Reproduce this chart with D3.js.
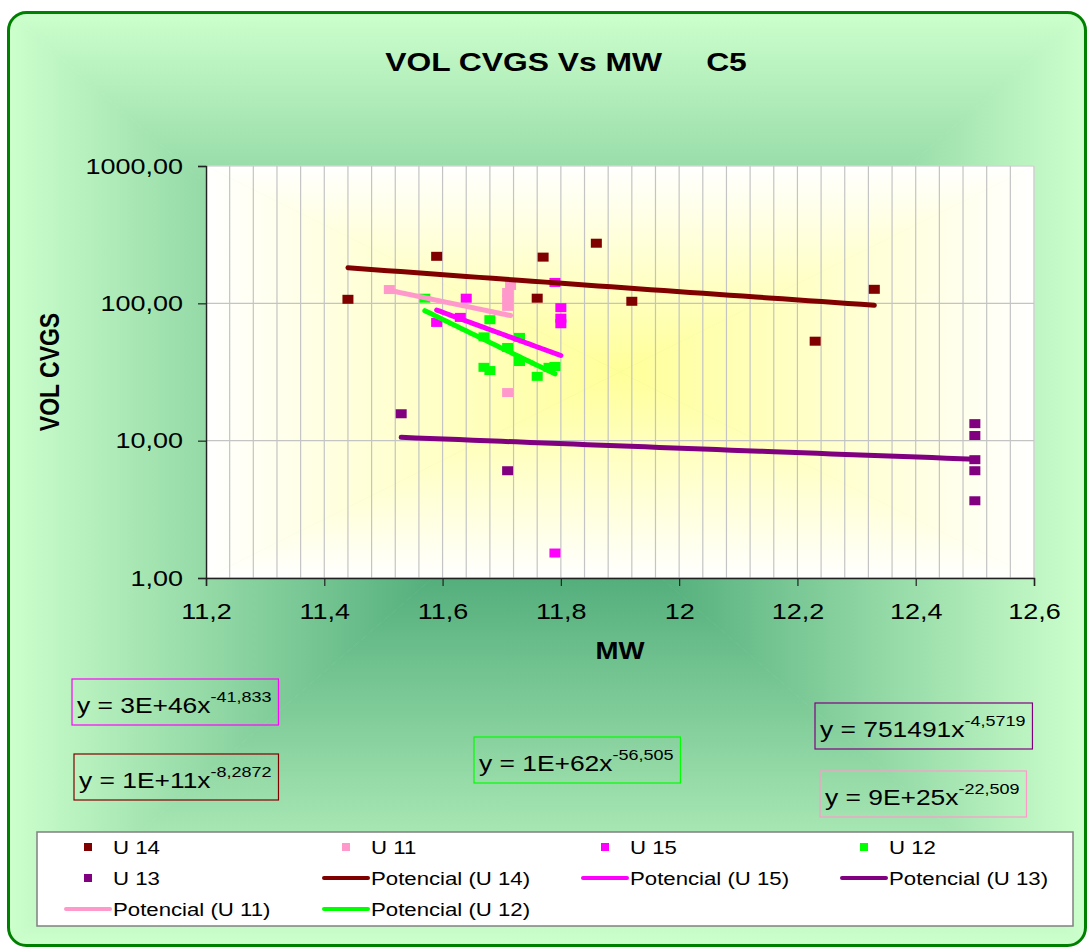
<!DOCTYPE html>
<html>
<head>
<meta charset="utf-8">
<script src="https://cdn.jsdelivr.net/npm/d3@7"></script>
<style>
  body { margin: 0; background: #fff; }
  text { font-family: Arial, "Liberation Sans", sans-serif; }
</style>
</head>
<body>
<script>
// series points [MW, VOL CVGS]
const u14 = [[11.44, 107], [11.59, 220], [11.76, 109], [11.77, 217], [11.86, 274], [11.92, 103.5], [12.23, 53], [12.33, 126.5]];
const u11 = [[11.51, 126], [11.71, 120], [11.71, 107], [11.71, 95], [11.715, 135], [11.71, 22.4]];
const u15 = [[11.59, 72.6], [11.63, 79], [11.64, 109], [11.79, 142], [11.80, 93], [11.80, 78], [11.80, 71], [11.79, 1.52]];
const u12 = [[11.57, 109], [11.68, 76], [11.67, 57], [11.73, 56.5], [11.71, 47.7], [11.73, 37.7], [11.67, 34.2], [11.68, 32.4], [11.76, 29.4], [11.79, 34.7], [11.78, 34.2]];
const u13 = [[11.53, 15.7], [11.71, 6.04], [12.5, 13.3], [12.5, 10.9], [12.5, 7.27], [12.5, 6.04], [12.5, 3.65]];

const seriesNames = ["U 14", "U 11", "U 15", "U 12", "U 13"];
const seriesData = [u14, u11, u15, u12, u13];
const seriesColors = ["#800000", "#FF99CC", "#FF00FF", "#00FF00", "#800080"];

// trendline labels as printed: [series, base, exponent]
const equations = [
  ["U 15", "y = 3E+46x", "-41,833"],
  ["U 14", "y = 1E+11x", "-8,2872"],
  ["U 12", "y = 1E+62x", "-56,505"],
  ["U 13", "y = 751491x", "-4,5719"],
  ["U 11", "y = 9E+25x", "-22,509"]
];
const eqBoxPos = [[72, 679], [74, 754], [474, 737], [815, 703], [820, 771]];

const xTicks = [11.2, 11.4, 11.6, 11.8, 12, 12.2, 12.4, 12.6];
const yTicks = [1, 10, 100, 1000];
const xMinorStep = 0.04;

const legendItems = [
  ["U 14", "marker"], ["U 11", "marker"], ["U 15", "marker"], ["U 12", "marker"],
  ["U 13", "marker"], ["U 14", "line"], ["U 15", "line"], ["U 13", "line"],
  ["U 11", "line"], ["U 12", "line"]
];

const W = 1090, H = 949, sx = 1.2;   // original picture is stretched sideways
const plot = { left: 206, top: 166, right: 1034, bottom: 578 };
const colorOf = name => seriesColors[seriesNames.indexOf(name)];

const svg = d3.select("body").append("svg").attr("width", W).attr("height", H);
const defs = svg.append("defs");

// "from centre" rectangular gradient built of four triangles
function rectGradient(g, id, x0, y0, w, h, inner, outer) {
  const cx = x0 + w / 2, cy = y0 + h / 2;
  const parts = [
    { pts: [[x0, y0], [x0 + w, y0], [cx, cy]], to: [cx, y0] },
    { pts: [[x0, y0 + h], [x0 + w, y0 + h], [cx, cy]], to: [cx, y0 + h] },
    { pts: [[x0, y0], [x0, y0 + h], [cx, cy]], to: [x0, cy] },
    { pts: [[x0 + w, y0], [x0 + w, y0 + h], [cx, cy]], to: [x0 + w, cy] }
  ];
  parts.forEach((p, i) => {
    const lg = defs.append("linearGradient").attr("id", id + i)
      .attr("gradientUnits", "userSpaceOnUse")
      .attr("x1", cx).attr("y1", cy).attr("x2", p.to[0]).attr("y2", p.to[1]);
    lg.append("stop").attr("offset", 0).attr("stop-color", inner);
    lg.append("stop").attr("offset", 1).attr("stop-color", outer);
    g.append("path").attr("d", "M" + p.pts.join("L") + "Z")
      .attr("fill", `url(#${id + i})`).attr("stroke", `url(#${id + i})`).attr("stroke-width", 0.8);
  });
}

// chart area
const frame = { x: 8.5, y: 12.5, w: 1077, h: 933, r: 18 };
defs.append("clipPath").attr("id", "frameClip").append("rect")
  .attr("x", frame.x).attr("y", frame.y).attr("width", frame.w).attr("height", frame.h)
  .attr("rx", frame.r);
const bg = svg.append("g").attr("clip-path", "url(#frameClip)");
rectGradient(bg, "chartGrad", frame.x, frame.y, frame.w, frame.h, "#339966", "#CCFFCC");
svg.append("rect")
  .attr("x", frame.x).attr("y", frame.y).attr("width", frame.w).attr("height", frame.h)
  .attr("rx", frame.r).attr("fill", "none").attr("stroke", "#008000").attr("stroke-width", 3);

// plot area
rectGradient(svg.append("g"), "plotGrad", plot.left, plot.top,
  plot.right - plot.left, plot.bottom - plot.top, "#FFFF99", "#FFFFFF");

const x = d3.scaleLinear().domain([11.2, 12.6]).range([plot.left, plot.right]);
const y = d3.scaleLog().domain([1, 1000]).range([plot.bottom, plot.top]);

const comma = s => s.replace(".", ",");

// gridlines
const minorCount = Math.round((12.6 - 11.2) / xMinorStep);
svg.append("g").selectAll("line")
  .data(d3.range(0, minorCount + 1).map(i => 11.2 + i * xMinorStep))
  .join("line")
  .attr("x1", d => x(d)).attr("x2", d => x(d))
  .attr("y1", plot.top).attr("y2", plot.bottom)
  .attr("stroke", "#c4c4c4").attr("stroke-width", 1.2);
svg.append("g").selectAll("line")
  .data(yTicks)
  .join("line")
  .attr("x1", plot.left).attr("x2", plot.right)
  .attr("y1", d => y(d)).attr("y2", d => y(d))
  .attr("stroke", "#c4c4c4").attr("stroke-width", 1.2);

// axes
const xAxis = svg.append("g")
  .attr("transform", `translate(0,${plot.bottom})`)
  .call(d3.axisBottom(x).tickValues(xTicks).tickSize(8).tickPadding(17)
    .tickFormat(d => comma(String(+d.toFixed(1)))));
xAxis.select(".domain").attr("stroke", "#222").attr("stroke-width", 1.5);
xAxis.selectAll(".tick line").attr("stroke", "#222").attr("stroke-width", 1.2);
xAxis.selectAll("text").attr("font-size", 22.5).attr("fill", "#000")
  .attr("transform", `scale(${sx},1)`);

const yAxis = svg.append("g")
  .attr("transform", `translate(${plot.left},0)`)
  .call(d3.axisLeft(y).tickValues(yTicks).tickSize(8)
    .tickFormat(d => comma(d3.format(".2f")(d))));
yAxis.select(".domain").attr("stroke", "#222").attr("stroke-width", 1.5);
yAxis.selectAll(".tick line").attr("stroke", "#222").attr("stroke-width", 1.2);
yAxis.selectAll("text").attr("font-size", 22.5).attr("fill", "#000")
  .attr("x", -23 / sx).attr("transform", `scale(${sx},1)`);

// markers
seriesData.forEach((pts, i) => {
  svg.append("g").selectAll("rect")
    .data(pts)
    .join("rect")
    .attr("x", d => x(d[0]) - 5.5).attr("y", d => y(d[1]) - 4.5)
    .attr("width", 11).attr("height", 9)
    .attr("fill", seriesColors[i]);
});

// power trendlines, least squares on ln-ln as the spreadsheet does
function powerFit(pts) {
  const lx = pts.map(d => Math.log(d[0])), ly = pts.map(d => Math.log(d[1]));
  const mx = d3.mean(lx), my = d3.mean(ly);
  const b = d3.sum(lx, (v, k) => (v - mx) * (ly[k] - my)) / d3.sum(lx, v => (v - mx) ** 2);
  const a = my - b * mx;
  return v => Math.exp(a + b * Math.log(v));
}
const trendOrder = ["U 14", "U 11", "U 15", "U 12", "U 13"];
trendOrder.forEach(name => {
  const i = seriesNames.indexOf(name);
  const pts = seriesData[i];
  const f = powerFit(pts);
  const [lo, hi] = d3.extent(pts, d => d[0]);
  const xs = d3.range(0, 41).map(k => lo + (hi - lo) * k / 40);
  svg.append("path")
    .datum(xs)
    .attr("fill", "none")
    .attr("stroke", seriesColors[i])
    .attr("stroke-width", 5)
    .attr("stroke-linecap", "round")
    .attr("d", d3.line().x(d => x(d)).y(d => y(f(d))));
});

// title and axis titles
svg.append("text")
  .attr("transform", `translate(566,71) scale(${sx},1)`)
  .attr("text-anchor", "middle").attr("font-size", 26.5).attr("font-weight", "bold")
  .text("VOL CVGS Vs MW\u00A0\u00A0\u00A0\u00A0\u00A0C5");
svg.append("text")
  .attr("transform", `translate(620,659) scale(${sx},1)`)
  .attr("text-anchor", "middle").attr("font-size", 23).attr("font-weight", "bold")
  .text("MW");
svg.append("text")
  .attr("transform", `translate(49,372) scale(${sx},1) rotate(-90)`)
  .attr("text-anchor", "middle").attr("dy", "0.36em")
  .attr("font-size", 23).attr("font-weight", "bold")
  .text("VOL CVGS");

// equation boxes
equations.forEach((eq, i) => {
  const [bx, by] = eqBoxPos[i];
  const g = svg.append("g");
  const box = g.append("rect");
  const t = g.append("text")
    .attr("transform", `translate(${bx + 5},${by + 34}) scale(${sx},1)`)
    .attr("font-size", 22);
  t.append("tspan").text(eq[1]);
  t.append("tspan").attr("font-size", 15).attr("dy", -11).text(eq[2]);
  const w = t.node().getBBox().width * sx + 12;
  box.attr("x", bx).attr("y", by).attr("width", w).attr("height", 46)
    .attr("fill", "none").attr("stroke", colorOf(eq[0])).attr("stroke-width", 1.2);
});

// legend
const lg = svg.append("g");
lg.append("rect").attr("x", 37).attr("y", 832).attr("width", 1036).attr("height", 94)
  .attr("fill", "#fff").attr("stroke", "#808080").attr("stroke-width", 1.5);
const colX = [66, 324, 583, 842], rowY = [847, 878, 909];
legendItems.forEach((item, k) => {
  const cx = colX[k % 4], cy = rowY[Math.floor(k / 4)];
  const c = colorOf(item[0]);
  if (item[1] === "marker") {
    lg.append("rect").attr("x", cx + 18).attr("y", cy - 4).attr("width", 8).attr("height", 8).attr("fill", c);
    lg.append("text").attr("transform", `translate(${cx + 47},${cy + 6.5}) scale(${sx},1)`)
      .attr("font-size", 18.5).text(item[0]);
  } else {
    lg.append("line").attr("x1", cx).attr("x2", cx + 44).attr("y1", cy).attr("y2", cy)
      .attr("stroke", c).attr("stroke-width", 4).attr("stroke-linecap", "round");
    lg.append("text").attr("transform", `translate(${cx + 47},${cy + 6.5}) scale(${sx},1)`)
      .attr("font-size", 18.5).text(`Potencial (${item[0]})`);
  }
});
</script>
</body>
</html>
